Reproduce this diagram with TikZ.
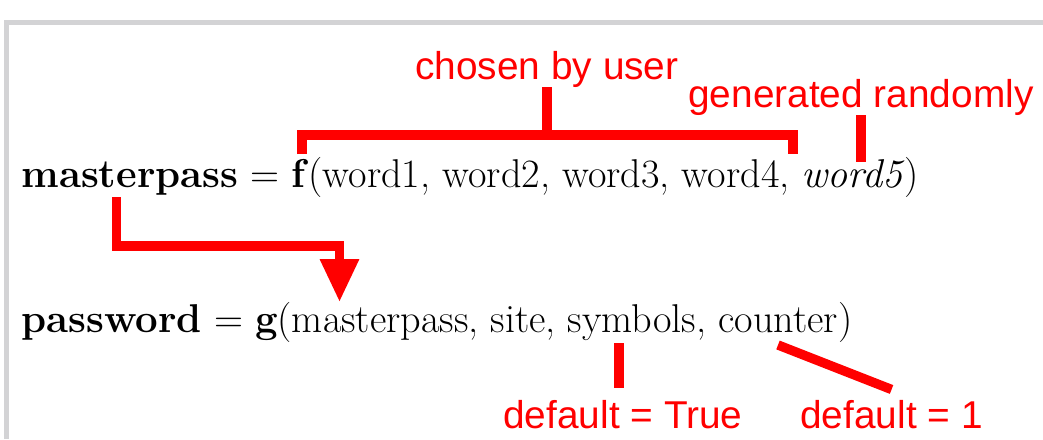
\documentclass[tikz,border=0pt]{standalone}
\usepackage{fontspec}
\setsansfont{Liberation Sans}
\usepackage{tikz}
\usetikzlibrary{positioning,calc,arrows.meta}
\definecolor{myred}{RGB}{255,0,0}
\definecolor{mygray}{RGB}{211,211,213}
\tikzset{
  formula/.style   = {anchor=base west, inner sep=0pt,
                      font=\fontsize{20.1pt}{24pt}\selectfont},
  note/.style      = {anchor=base west, inner sep=0pt, text=myred,
                      font=\sffamily\fontsize{19.4pt}{22pt}\selectfont},
  redline/.style   = {draw=myred, line width=4.7pt},
  redarrow/.style  = {redline, -{Triangle[width=18.5pt,length=21.5pt]}},
  greyframe/.style = {draw=mygray, line width=2.5pt}
}

\begin{document}
\begin{tikzpicture}[x=0.5pt,y=-0.5pt]
  \useasboundingbox (0,0) rectangle (1043,439);
  \draw[greyframe] (6.5,439) -- (6.5,22.5) -- (1043,22.5);
  \node[formula] (mline) at (21,187)
    {\textbf{masterpass} = \textbf{f}(word1, word2, word3, word4, \textit{word5})};
  \node[formula] (pline) at (21,332)
    {\textbf{password} = \textbf{g}(masterpass, site, symbols, counter)};
  \node[note] (chosen) at (415,79)  {chosen by user};
  \node[note] (random) at (688,107) {generated randomly};
  \node[note] (symdef) at (503,428) {default = True};
  \node[note] (cntdef) at (800,428) {default = 1};
  \coordinate (w1)  at (302,154);
  \coordinate (w4)  at (793,154);
  \coordinate (brk) at (548,135);
  \coordinate (w5)  at (862,162);
  \coordinate (mp)  at (116.5,197);
  \coordinate (gin) at (339.5,302);
  \coordinate (sym) at (619,343);
  \coordinate (cnt) at (778,345);
  \draw[redline] (w1) |- (brk) -| (w4);
  \draw[redline] (chosen.south) -- (chosen.south |- brk);
  \draw[redline] (random.south) -- (random.south |- w5);
  \draw[redarrow] (mp) -- ++(0,49) -| (gin);
  \draw[redline, shorten >=5.5pt] (sym) -- (sym |- symdef.north);
  \draw[redline] (cnt) -- ($(cntdef.north)+(0,-10)$);
\end{tikzpicture}
\end{document}
